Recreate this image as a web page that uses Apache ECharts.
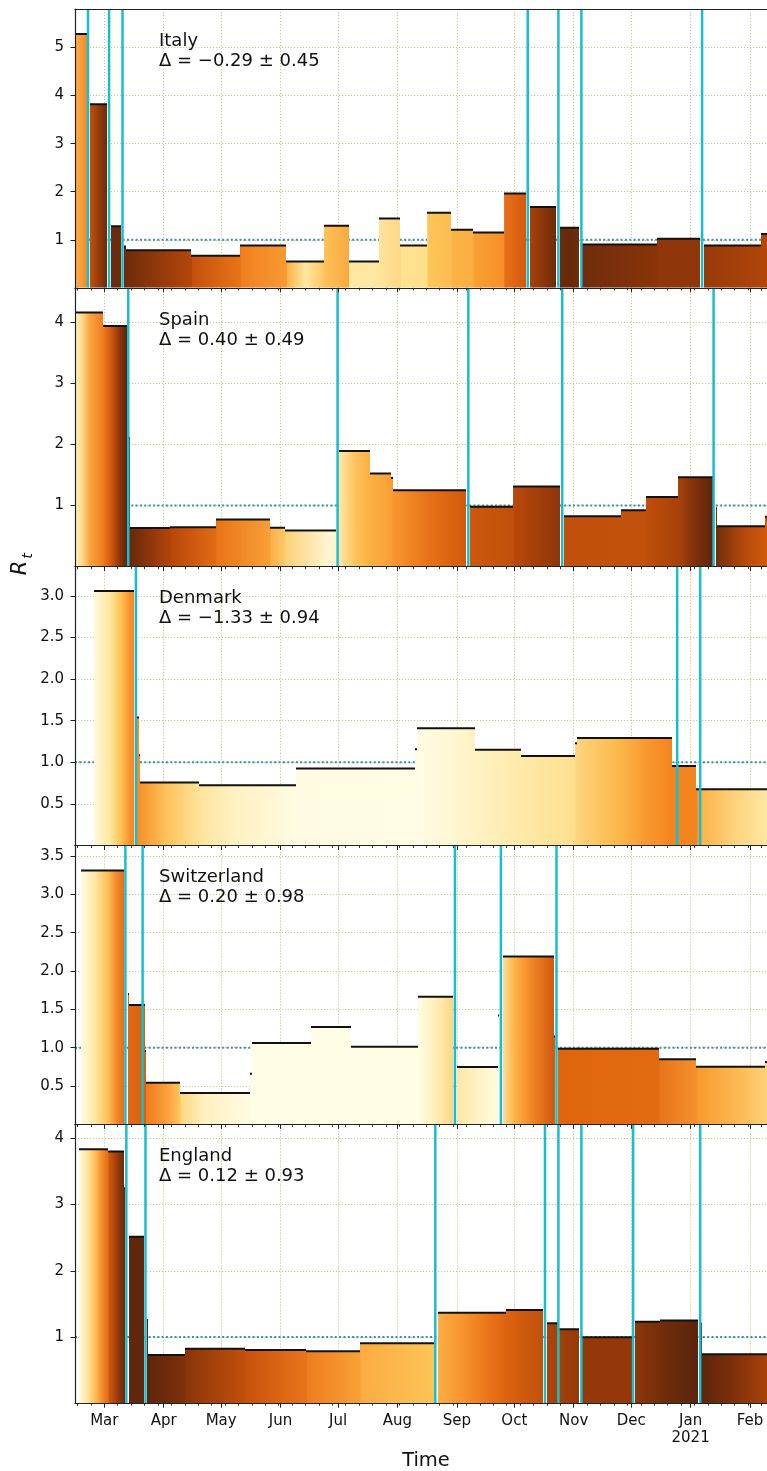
<!DOCTYPE html>
<html>
<head>
<meta charset="utf-8">
<script src="https://cdn.jsdelivr.net/npm/echarts@6/dist/echarts.min.js"></script>
<style>
html,body{margin:0;padding:0;background:#fff;overflow:hidden;}
#chart{width:767px;height:1471px;}
</style>
</head>
<body>
<div id="chart"></div>
<script>
// ---------------- data ----------------
const countries = ['Italy', 'Spain', 'Denmark', 'Switzerland', 'England'];
const deltaLabels = ['Δ = −0.29 ± 0.45', 'Δ = 0.40 ± 0.49', 'Δ = −1.33 ± 0.94', 'Δ = 0.20 ± 0.98', 'Δ = 0.12 ± 0.93'];
const monthLabels = ['Jan', 'Feb', 'Mar', 'Apr', 'May', 'Jun', 'Jul', 'Aug', 'Sep', 'Oct', 'Nov', 'Dec'];
const yMaxes = [5.80, 4.554, 3.351, 3.637, 4.211];
const yIntervals = [1, 1, 0.5, 0.5, 1];
const yDecimals = [0, 0, 1, 1, 0];
const xRange = ['2020-02-14T17', '2021-02-09T21'];
const refLevel = 1;

// piecewise-constant R_t segments: [start, end, value]
const italySegs = [
  ['2020-02-15','2020-02-21',5.28], ['2020-02-22T12','2020-03-02T12',3.82], ['2020-03-04T12','2020-03-09T12',1.28],
  ['2020-03-11T12','2020-03-12T12',0.86], ['2020-03-12T12','2020-04-15T12',0.78], ['2020-04-15T12','2020-05-11',0.67],
  ['2020-05-11','2020-06-04',0.88], ['2020-06-04','2020-06-23T12',0.55], ['2020-06-23T12','2020-07-06T12',1.29],
  ['2020-07-06T12','2020-07-22T12',0.55], ['2020-07-22T12','2020-08-02T12',1.44], ['2020-08-02T12','2020-08-16T12',0.88],
  ['2020-08-16T12','2020-08-29',1.56], ['2020-08-29','2020-09-09T12',1.21], ['2020-09-09T12','2020-09-25T12',1.15],
  ['2020-09-25T12','2020-10-07',1.96], ['2020-10-09','2020-10-23',1.68], ['2020-10-25','2020-11-04',1.25],
  ['2020-11-05','2020-12-14T12',0.90], ['2020-12-14T12','2021-01-06',1.02], ['2021-01-08','2021-02-06T12',0.88],
  ['2021-02-06T12','2021-02-13',1.12]
];
const spainSegs = [
  ['2020-02-14','2020-02-29T12',4.15], ['2020-02-29T12','2020-03-13',3.93], ['2020-03-14','2020-03-14T12',2.10],
  ['2020-03-14T12','2020-04-04T12',0.63], ['2020-04-04T12','2020-04-28T12',0.645], ['2020-04-28T12','2020-05-26T12',0.77],
  ['2020-05-26T12','2020-06-03T12',0.635], ['2020-06-03T12','2020-06-30',0.59], ['2020-07-01T12','2020-07-17T12',1.89],
  ['2020-07-17T12','2020-07-28T12',1.52], ['2020-07-28T12','2020-07-29T12',1.45], ['2020-07-29T12','2020-09-06',1.25],
  ['2020-09-08','2020-09-30T12',0.98], ['2020-09-30T12','2020-10-25',1.31], ['2020-10-27','2020-11-25T12',0.825],
  ['2020-11-25T12','2020-12-08T12',0.92], ['2020-12-08T12','2020-12-25T12',1.14], ['2020-12-25T12','2021-01-12T12',1.46],
  ['2021-01-14T06','2021-01-14T18',0.955], ['2021-01-15','2021-02-09',0.66], ['2021-02-09','2021-02-13',0.815]
];
const denmarkSegs = [
  ['2020-02-24T12','2020-03-16T12',3.06], ['2020-03-18','2020-03-19',1.54], ['2020-03-19','2020-03-19T12',1.085],
  ['2020-03-19T12','2020-04-19T12',0.757], ['2020-04-19T12','2020-06-09',0.725], ['2020-06-09','2020-08-10',0.925],
  ['2020-08-10','2020-08-11',1.157], ['2020-08-11','2020-09-10T12',1.41], ['2020-09-10T12','2020-10-04T12',1.15],
  ['2020-10-04T12','2020-11-01T12',1.077], ['2020-11-01T12','2020-11-02T12',1.23], ['2020-11-02T12','2020-12-22T12',1.293],
  ['2020-12-22T12','2021-01-04',0.957], ['2021-01-04','2021-02-13',0.677]
];
const switzerlandSegs = [
  ['2020-02-18','2020-03-11T12',3.31], ['2020-03-13T12','2020-03-14',1.70], ['2020-03-14','2020-03-22T12',1.556],
  ['2020-03-22T12','2020-03-23',0.956], ['2020-03-23','2020-04-09T12',0.544], ['2020-04-09T12','2020-05-16',0.41],
  ['2020-05-16','2020-05-17',0.66], ['2020-05-17','2020-06-17',1.06], ['2020-06-17','2020-07-08',1.27],
  ['2020-07-08','2020-08-11T12',1.013], ['2020-08-11T12','2020-08-30',1.666], ['2020-09-01','2020-09-22T12',0.747],
  ['2020-09-22T12','2020-09-23',1.42], ['2020-09-25','2020-10-21T12',2.19], ['2020-10-21T12','2020-10-22',1.147],
  ['2020-10-24','2020-12-15T12',0.987], ['2020-12-15T12','2021-01-04',0.848], ['2021-01-04','2021-02-09',0.75],
  ['2021-02-09','2021-02-13',0.815]
];
const englandSegs = [
  ['2020-02-17','2020-03-03',3.834], ['2020-03-03','2020-03-11T12',3.80], ['2020-03-11T12','2020-03-12',3.245],
  ['2020-03-14','2020-03-21T12',2.515], ['2020-03-23T12','2020-03-24',1.257], ['2020-03-24','2020-04-12',0.728],
  ['2020-04-12','2020-05-13T12',0.824], ['2020-05-13T12','2020-06-14T12',0.803], ['2020-06-14T12','2020-07-12T12',0.783],
  ['2020-07-12T12','2020-08-20',0.904], ['2020-08-22','2020-09-26T12',1.367], ['2020-09-26T12','2020-10-16',1.407],
  ['2020-10-18','2020-10-24T12',1.206], ['2020-10-24T12','2020-11-03T12',1.116], ['2020-11-05T12','2020-12-01T12',0.995],
  ['2020-12-03','2020-12-16',1.23], ['2020-12-16','2021-01-05',1.25], ['2021-01-06T12','2021-01-07',1.2],
  ['2021-01-07','2021-02-13',0.738]
];

// change points (cyan vertical lines)
const italyChanges = ['2020-02-21T12','2020-03-03T12','2020-03-10T12','2020-10-08','2020-10-24','2020-11-05','2021-01-07'];
const spainChanges = ['2020-03-13T12','2020-06-30T18','2020-09-07','2020-10-26','2021-01-13'];
const denmarkChanges = ['2020-03-17T12','2020-12-25','2021-01-06'];
const switzerlandChanges = ['2020-03-12','2020-03-21','2020-08-31','2020-09-24','2020-10-23'];
const englandChanges = ['2020-03-12T12','2020-03-22T12','2020-08-20T18','2020-10-17','2020-10-24','2020-11-05','2020-12-02','2021-01-06'];

// colour ribbon along time (fill shade of the bars)
const italyColors = [
  ['2020-02-15','#fdae4b'],['2020-02-21','#f3892a'],['2020-02-22T12','#c2500c'],['2020-03-02T12','#6b2b0b'],
  ['2020-03-11T12','#6e2b0b'],['2020-04-15T12','#b5460a'],['2020-04-16','#c4510b'],['2020-05-11','#e87417'],
  ['2020-05-11T12','#f07f1f'],['2020-06-04','#f89a33'],['2020-06-04T12','#fbb247'],['2020-06-14','#fee8a0'],
  ['2020-06-23','#fdca66'],['2020-06-23T12','#fdc35a'],['2020-07-06T12','#f9aa40'],['2020-07-07','#fde9a4'],
  ['2020-07-22T12','#fee6a0'],['2020-07-23','#fde39a'],['2020-08-02T12','#fdd888'],['2020-08-03','#fde391'],
  ['2020-08-16T12','#fde08c'],['2020-08-17','#fdc55a'],['2020-08-29','#fcbd52'],['2020-08-29T12','#fbb447'],
  ['2020-09-09T12','#fbad40'],['2020-09-10','#f9a033'],['2020-09-25T12','#f78f28'],['2020-09-26','#e8701a'],
  ['2020-10-07','#d45a0c'],['2020-10-09','#a8410a'],['2020-10-23','#6e2b0a'],['2020-10-30','#672a0b'],
  ['2020-11-05','#702c0b'],['2020-12-14T12','#8a340a'],['2020-12-15','#8f360a'],['2021-01-06','#8f360a'],
  ['2021-01-08','#983a09'],['2021-02-06T12','#ae450a'],['2021-02-10','#b4470a']
];
const spainColors = [
  ['2020-02-15','#fff3c6'],['2020-02-18T12','#fed886'],['2020-02-22T12','#fba440'],['2020-02-29','#f07e22'],
  ['2020-03-05','#cc560c'],['2020-03-09','#8e360a'],['2020-03-12','#62280c'],['2020-03-15','#6a2a0b'],
  ['2020-04-04','#b0440a'],['2020-04-05','#b8480a'],['2020-04-28','#e06a14'],['2020-04-29','#ea7419'],
  ['2020-05-26T12','#f8a038'],['2020-05-27','#fbb04a'],['2020-06-03','#fdc866'],['2020-06-04','#fdd27a'],
  ['2020-06-27','#fff6d4'],['2020-06-30','#fff3c8'],['2020-07-01T12','#fee8a8'],['2020-07-10','#fdc45c'],
  ['2020-07-17T12','#fbb044'],['2020-07-28T12','#f9a036'],['2020-07-30','#f8962f'],['2020-08-18','#e87018'],
  ['2020-09-06','#d05a0c'],['2020-09-08','#cd580c'],['2020-09-30T12','#c0500b'],['2020-10-01','#b8480a'],
  ['2020-10-25','#8e360a'],['2020-10-27','#c0500b'],['2020-12-08T12','#c2510b'],['2020-12-09','#bf4f0b'],
  ['2020-12-25T12','#a8420a'],['2021-01-01','#8a340a'],['2021-01-12T12','#5c250c'],['2021-01-15','#72300a'],
  ['2021-01-29T12','#b84a0a'],['2021-02-10','#d05a0c']
];
const denmarkColors = [
  ['2020-02-24','#fffbe0'],['2020-03-04','#fee8a0'],['2020-03-10','#fcc050'],['2020-03-14T12','#f7902a'],
  ['2020-03-17','#f58523'],['2020-03-19T12','#f6922c'],['2020-04-02','#fdc057'],['2020-04-19T12','#fee39a'],
  ['2020-05-06','#fff0c0'],['2020-06-09','#fffbe2'],['2020-08-10','#fffce4'],['2020-08-27','#fff8d6'],
  ['2020-09-10T12','#fff2c4'],['2020-10-04T12','#fee9a8'],['2020-11-01T12','#fedf90'],['2020-11-02T12','#fdd47c'],
  ['2020-11-25','#fcb84a'],['2020-12-10','#f8962c'],['2020-12-22T12','#f4851f'],['2021-01-04','#f3841e'],
  ['2021-01-06','#fcb449'],['2021-01-26','#fed581'],['2021-02-10','#fee8a4']
];
const switzerlandColors = [
  ['2020-02-18','#fffbe2'],['2020-02-25','#fee8a2'],['2020-03-03','#fdbf55'],['2020-03-07T12','#f3882a'],
  ['2020-03-11T12','#e46c16'],['2020-03-22T12','#d95f10'],['2020-03-23','#f07a1e'],['2020-04-04','#fba640'],
  ['2020-04-09T12','#fdc460'],['2020-04-10','#fed880'],['2020-04-22T12','#fff0c0'],['2020-05-16','#fffbe2'],
  ['2020-05-17','#fffde6'],['2020-08-11T12','#fffde4'],['2020-08-13','#fffbe0'],['2020-08-24','#fee8a6'],
  ['2020-08-30','#fed67e'],['2020-09-01','#fee7a4'],['2020-09-22T12','#fffce0'],['2020-09-25','#fde09a'],
  ['2020-10-01','#fcb448'],['2020-10-09','#f48a2a'],['2020-10-21','#d25a10'],['2020-10-24','#e0660e'],
  ['2020-12-15T12','#e26a12'],['2020-12-16','#e8741a'],['2021-01-04','#f58f2c'],['2021-01-04T12','#f8992f'],
  ['2021-01-27','#fdbb55'],['2021-02-10','#fed07a']
];
const englandColors = [
  ['2020-02-17','#fffbe0'],['2020-02-21T12','#fee39a'],['2020-02-26','#fdb44c'],['2020-02-29','#f48a2c'],
  ['2020-03-03','#e26c16'],['2020-03-03T12','#d0580e'],['2020-03-09','#8a340a'],['2020-03-11T12','#6e2c0b'],
  ['2020-03-14','#62280c'],['2020-03-24','#5e260c'],['2020-04-12','#7e300a'],['2020-04-12T12','#8a340a'],
  ['2020-05-13T12','#c24f0b'],['2020-05-14','#c8520b'],['2020-06-14T12','#e8741a'],['2020-06-15','#ee7d1f'],
  ['2020-07-12T12','#f9a136'],['2020-07-13','#fbac42'],['2020-08-20','#fdc457'],['2020-08-22','#fdae45'],
  ['2020-09-03','#f8962f'],['2020-09-18','#ea7419'],['2020-09-26T12','#dc6410'],['2020-10-16','#c0500b'],
  ['2020-10-18','#b0440a'],['2020-10-25','#a23f0a'],['2020-11-05','#94380a'],['2020-12-01T12','#94380a'],
  ['2020-12-03','#8e360a'],['2020-12-21T12','#6b2b0b'],['2021-01-05','#5a250c'],['2021-01-07','#5e260c'],
  ['2021-01-21T12','#7a2e0a'],['2021-02-10','#a8420a']
];

const allSegs = [italySegs, spainSegs, denmarkSegs, switzerlandSegs, englandSegs];
const allChanges = [italyChanges, spainChanges, denmarkChanges, switzerlandChanges, englandChanges];
const allColors = [italyColors, spainColors, denmarkColors, switzerlandColors, englandColors];

// ---------------- helpers / styling ----------------
function ts(s) {
  const m = s.match(/^(\d{4})-(\d{2})-(\d{2})(?:T(\d{2}))?$/);
  return new Date(+m[1], +m[2] - 1, +m[3], m[4] ? +m[4] : 0).getTime();
}
const DAY = 86400000;
const X_MIN = ts(xRange[0]), X_MAX = ts(xRange[1]);
const FONT = 'DejaVu Sans';
const GRID_LEFT = 75, GRID_W = 692, GRID_TOP = 9, GRID_H = 278.84;
const GRID_COLOR = '#c9c98a';
const AXIS_COLOR = '#222';
const CYAN = '#17becf';
const REF_COLOR = '#3a8ea3';
const AX_PER_GRID = 4;

// weekly (Sunday) minor ticks
const sundays = [];
for (let k = 0; ; k++) {
  const t = new Date(2020, 1, 16 + 7 * k).getTime();
  if (t > X_MAX) break;
  sundays.push(t);
}

const grids = [], xAxes = [], yAxes = [], series = [], graphics = [];

countries.forEach((name, i) => {
  const top = GRID_TOP + i * GRID_H;
  grids.push({ left: GRID_LEFT, top: top, width: GRID_W, height: GRID_H, show: false });

  const baseX = { type: 'time', gridIndex: i, min: X_MIN, max: X_MAX, position: 'bottom',
    splitNumber: 12, minInterval: 28 * DAY, maxInterval: 31 * DAY };
  // gridlines axis
  xAxes.push(Object.assign({}, baseX, {
    axisLine: { show: false }, axisTick: { show: false }, axisLabel: { show: false },
    splitLine: { show: true, lineStyle: { color: GRID_COLOR, width: 1, type: [1.2, 1.8] } }
  }));
  // main axis (line, month ticks, labels)
  xAxes.push(Object.assign({}, baseX, {
    z: 10,
    axisLine: { show: true, onZero: false, lineStyle: { color: AXIS_COLOR, width: 1.2 } },
    axisTick: { show: true, length: 4.5, lineStyle: { color: AXIS_COLOR, width: 1 } },
    axisLabel: { show: i === countries.length - 1, showMinLabel: false, showMaxLabel: false,
      fontFamily: FONT, fontSize: 15, color: '#111', margin: 9, lineHeight: 17,
      formatter: v => { const d = new Date(v); const m = d.getMonth();
        return m === 0 ? monthLabels[0] + '\n' + d.getFullYear() : monthLabels[m]; } },
    splitLine: { show: false }
  }));
  // weekly minor ticks
  xAxes.push(Object.assign({}, baseX, {
    z: 10,
    axisLine: { show: false },
    axisTick: { show: true, length: 2.5, customValues: sundays, lineStyle: { color: AXIS_COLOR, width: 0.9 } },
    axisLabel: { show: false }, splitLine: { show: false }
  }));
  // top spine
  xAxes.push(Object.assign({}, baseX, {
    z: 10, position: 'top',
    axisLine: { show: true, onZero: false, lineStyle: { color: AXIS_COLOR, width: 1.2 } },
    axisTick: { show: false }, axisLabel: { show: false }, splitLine: { show: false }
  }));

  const baseY = { type: 'value', gridIndex: i, min: 0, max: yMaxes[i], interval: yIntervals[i], position: 'left' };
  yAxes.push(Object.assign({}, baseY, {
    axisLine: { show: false }, axisTick: { show: false }, axisLabel: { show: false },
    splitLine: { show: true, lineStyle: { color: GRID_COLOR, width: 1, type: [1.2, 1.8] } }
  }));
  yAxes.push(Object.assign({}, baseY, {
    z: 10,
    axisLine: { show: true, onZero: false, lineStyle: { color: AXIS_COLOR, width: 1.2 } },
    axisTick: { show: true, length: 4.5, lineStyle: { color: AXIS_COLOR, width: 1 } },
    axisLabel: { showMinLabel: false, showMaxLabel: false, fontFamily: FONT, fontSize: 15, color: '#111', margin: 11,
      formatter: v => yDecimals[i] ? v.toFixed(1) : String(Math.round(v)) },
    splitLine: { show: false }
  }));

  const xi = i * AX_PER_GRID, yi = i * 2;
  const cols = allColors[i].map(c => ({ t: ts(c[0]), c: c[1] }));

  // reference line at R_t = 1
  series.push({ type: 'line', xAxisIndex: xi, yAxisIndex: yi, z: 2, silent: true, symbol: 'none',
    data: [[X_MIN, refLevel], [X_MAX, refLevel]],
    lineStyle: { color: REF_COLOR, width: 2, type: [2, 2.33] } });

  // bars with time-dependent fill
  series.push({ type: 'custom', xAxisIndex: xi, yAxisIndex: yi, z: 3, silent: true, clip: true,
    encode: { x: [0, 1], y: 2 },
    data: allSegs[i].map(s => [ts(s[0]), ts(s[1]), s[2]]),
    renderItem: (params, api) => {
      const cs = params.coordSys;
      const p0 = api.coord([api.value(0), api.value(2)]);
      const p1 = api.coord([api.value(1), 0]);
      const x0 = Math.round(Math.max(p0[0], cs.x)), x1 = Math.round(Math.min(p1[0], cs.x + cs.width));
      if (x1 <= x0) return null;
      const g0 = api.coord([cols[0].t, 0])[0], g1 = api.coord([cols[cols.length - 1].t, 0])[0];
      const stops = cols.map(c => ({ offset: Math.min(1, Math.max(0, (api.coord([c.t, 0])[0] - g0) / (g1 - g0))), color: c.c }));
      return { type: 'group', children: [
        { type: 'rect', shape: { x: x0, y: p0[1], width: x1 - x0, height: p1[1] - p0[1] },
          style: { fill: { type: 'linear', x: g0, y: 0, x2: g1, y2: 0, colorStops: stops, global: true } } },
        { type: 'line', shape: { x1: x0, y1: p0[1], x2: x1, y2: p0[1] }, style: { stroke: '#111', lineWidth: 2 } }
      ] };
    } });

  // change points
  series.push({ type: 'custom', xAxisIndex: xi, yAxisIndex: yi, z: 5, silent: true, clip: true,
    encode: { x: 0, y: 1 },
    data: allChanges[i].map(d => [ts(d), 0]),
    renderItem: (params, api) => {
      const cs = params.coordSys;
      const x = api.coord([api.value(0), 0])[0];
      return { type: 'line', shape: { x1: x, y1: cs.y, x2: x, y2: cs.y + cs.height },
        style: { stroke: CYAN, lineWidth: 2.5 } };
    } });

  graphics.push({ type: 'text', left: 159, top: top + 34 - 11, z: 20,
    style: { text: name, font: '18px "DejaVu Sans"', fill: '#111' } });
  graphics.push({ type: 'text', left: 159, top: top + 54 - 11, z: 20,
    style: { text: deltaLabels[i], font: '18px "DejaVu Sans"', fill: '#111' } });
});

graphics.push({ type: 'text', x: 20.5, y: 568, rotation: Math.PI / 2, z: 20,
  style: { text: 'R', font: 'italic 21px "DejaVu Sans"', fill: '#111', align: 'center', verticalAlign: 'middle', textAlign: 'center', textVerticalAlign: 'middle' } });
graphics.push({ type: 'text', x: 28.5, y: 556, rotation: Math.PI / 2, z: 20,
  style: { text: 't', font: 'italic 14.5px "DejaVu Sans"', fill: '#111', align: 'center', verticalAlign: 'middle', textAlign: 'center', textVerticalAlign: 'middle' } });
graphics.push({ type: 'text', x: 426, y: 1461, z: 20,
  style: { text: 'Time', font: '19.5px "DejaVu Sans"', fill: '#111', align: 'center', verticalAlign: 'middle', textAlign: 'center', textVerticalAlign: 'middle' } });

const chart = echarts.init(document.getElementById('chart'), null, { renderer: 'canvas' });
chart.setOption({
  animation: false,
  backgroundColor: '#fff',
  textStyle: { fontFamily: FONT },
  grid: grids, xAxis: xAxes, yAxis: yAxes, series: series, graphic: graphics
});
</script>
</body>
</html>
